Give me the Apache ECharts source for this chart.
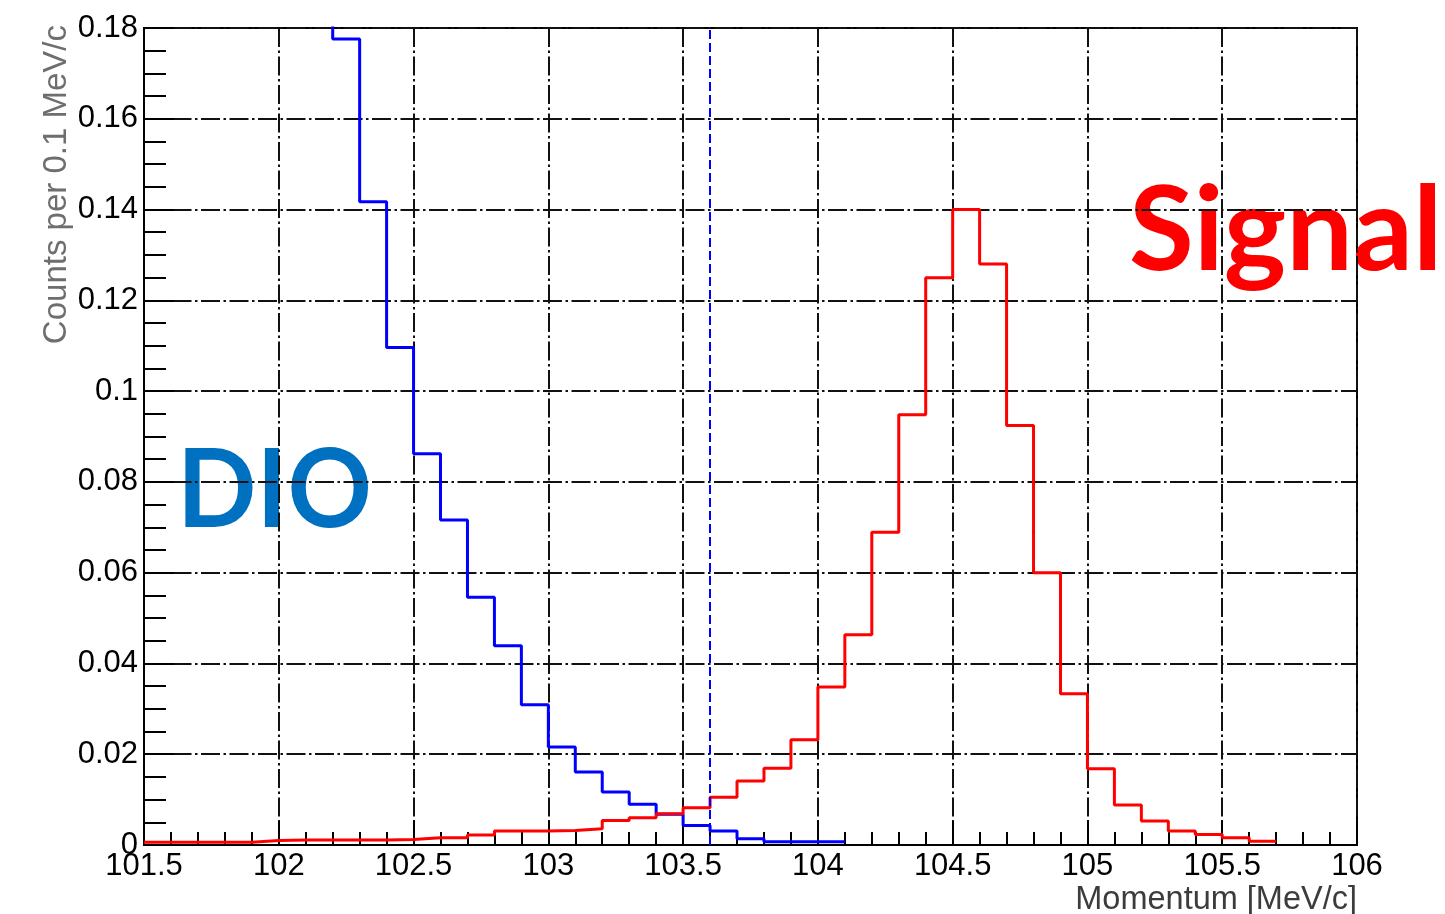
<!DOCTYPE html>
<html>
<head>
<meta charset="utf-8">
<script src="https://cdn.jsdelivr.net/npm/echarts@6/dist/echarts.min.js"></script>
<style>
html,body{margin:0;padding:0;background:#fff;}
#chart{width:1445px;height:914px;}
</style>
</head>
<body>
<div id="chart"></div>
<script>
// Bin lower edges (bin width 0.1 MeV/c)
const signalBinLow = [101.5,101.6,101.7,101.8,101.9,102.0,102.1,102.2,102.3,102.4,102.5,102.6,102.7,102.8,102.9,103.0,103.1,103.2,103.3,103.4,103.5,103.6,103.7,103.8,103.9,104.0,104.1,104.2,104.3,104.4,104.5,104.6,104.7,104.8,104.9,105.0,105.1,105.2,105.3,105.4,105.5,105.6];
const signalValues = [0.0006,0.0006,0.0006,0.0006,0.0010,0.0011,0.0011,0.0011,0.0011,0.0012,0.0016,0.0016,0.0022,0.0031,0.0031,0.0032,0.0036,0.0054,0.0060,0.0069,0.0082,0.0105,0.0141,0.0169,0.0232,0.0348,0.0463,0.0689,0.0948,0.1250,0.1400,0.1280,0.0924,0.0600,0.0333,0.0168,0.0088,0.0053,0.0031,0.0023,0.0016,0.0008];
const signalEnd = 105.7;

const dioBinLow = [102.1,102.2,102.3,102.4,102.5,102.6,102.7,102.8,102.9,103.0,103.1,103.2,103.3,103.4,103.5,103.6,103.7,103.8,103.9,104.0];
const dioValues = [0.215,0.1776,0.1417,0.1096,0.0862,0.0716,0.0546,0.0439,0.0309,0.0216,0.0161,0.0117,0.0090,0.0068,0.0043,0.0031,0.0014,0.0007,0.0007,0.0007];
const dioEnd = 104.1;

const momentumCut = 103.6;

const xTicks = {min: 101.5, max: 106, interval: 0.5};
const yTicks = {min: 0, max: 0.18, interval: 0.02};

function histPoints(lows, vals, end) {
  const pts = lows.map((x, i) => [x, vals[i]]);
  pts.push([end, vals[vals.length - 1]]);
  return pts;
}

const FONT = '"Liberation Sans", Arial, Helvetica, sans-serif';
const gridDash = [19, 3.5, 2.5, 3.5];

const chart = echarts.init(document.getElementById('chart'), null, {renderer: 'canvas'});
chart.setOption({
  animation: false,
  backgroundColor: '#ffffff',
  grid: {left: 144, right: 88, top: 28, bottom: 69, show: true, borderColor: '#000', borderWidth: 2, backgroundColor: 'transparent'},
  xAxis: {
    type: 'value', min: xTicks.min, max: xTicks.max, interval: xTicks.interval,
    axisLine: {show: true, lineStyle: {color: '#000', width: 2}},
    axisTick: {show: true, inside: true, length: 24, lineStyle: {color: '#000', width: 2}},
    minorTick: {show: true, splitNumber: 5, length: 13, lineStyle: {color: '#000', width: 2}},
    axisLabel: {color: '#000', fontFamily: FONT, fontSize: 31, margin: 6, showMinLabel: true, showMaxLabel: true},
    splitLine: {show: true, lineStyle: {color: '#111', width: 2, type: gridDash}}
  },
  yAxis: {
    type: 'value', min: yTicks.min, max: yTicks.max, interval: yTicks.interval,
    axisLine: {show: true, lineStyle: {color: '#000', width: 2}},
    axisTick: {show: true, inside: true, length: 30, lineStyle: {color: '#000', width: 2}},
    minorTick: {show: true, splitNumber: 4, length: 22, lineStyle: {color: '#000', width: 2}},
    axisLabel: {color: '#000', fontFamily: FONT, fontSize: 31, margin: 6},
    splitLine: {show: true, lineStyle: {color: '#111', width: 2, type: gridDash}}
  },
  series: [
    {
      name: 'DIO', type: 'line', step: 'end', showSymbol: false, clip: true,
      data: histPoints(dioBinLow, dioValues, dioEnd),
      lineStyle: {color: '#0000ff', width: 3},
      markLine: {
        silent: true, symbol: ['none', 'none'], label: {show: false},
        lineStyle: {color: '#0000ff', width: 2, type: [9, 4]},
        data: [{xAxis: momentumCut}]
      }
    },
    {
      name: 'Signal', type: 'line', step: 'end', showSymbol: false, clip: true,
      data: histPoints(signalBinLow, signalValues, signalEnd),
      lineStyle: {color: '#ff0000', width: 3}
    }
  ],
  graphic: [
    {type: 'text', x: 57, y: 25, rotation: Math.PI / 2,
     style: {text: 'Counts per 0.1 MeV/c', font: '33px ' + FONT, fill: '#6e6e6e', align: 'right', verticalAlign: 'middle'}},
    {type: 'text', x: 1357, y: 900,
     style: {text: 'Momentum [MeV/c]', font: '32.5px ' + FONT, fill: '#3c3c3c', align: 'right', verticalAlign: 'middle'}},
    {type: 'text', x: 177, y: 492, scaleX: 0.95,
     style: {text: 'DIO', font: 'bold 110px Lato, "Open Sans", sans-serif', fill: '#0070c0', align: 'left', verticalAlign: 'middle'}},
    {type: 'text', x: 1129, y: 233, scaleX: 1.02,
     style: {text: 'Signal', font: 'bold 116px Lato, "Open Sans", sans-serif', fill: '#ff0000', align: 'left', verticalAlign: 'middle'}}
  ]
});
</script>
</body>
</html>
